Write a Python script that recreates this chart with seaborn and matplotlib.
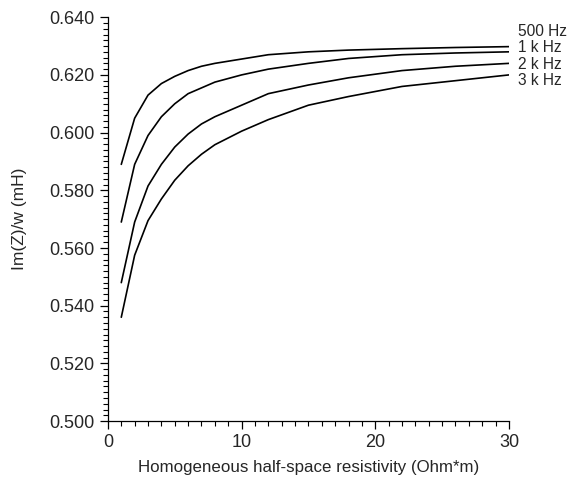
import pandas as pd
import seaborn as sns
import matplotlib.pyplot as plt
from matplotlib.ticker import MultipleLocator, FormatStrFormatter

# Resistivity values (Ohm*m) and Im(Z)/w (mH)
resistivity = [1, 2, 3, 4, 5, 6, 7, 8, 10, 12, 15, 18, 22, 26, 30]
im_500 = [0.589, 0.605, 0.613, 0.617, 0.6195, 0.6215, 0.623, 0.624, 0.6255,
          0.627, 0.628, 0.6286, 0.6291, 0.6295, 0.6298]
im_1k = [0.569, 0.589, 0.599, 0.6055, 0.610, 0.6135, 0.6155, 0.6175, 0.620,
         0.622, 0.624, 0.6257, 0.627, 0.6276, 0.628]
im_2k = [0.548, 0.569, 0.5815, 0.589, 0.595, 0.5995, 0.603, 0.6055, 0.6095,
         0.6135, 0.6165, 0.619, 0.6215, 0.623, 0.624]
im_3k = [0.536, 0.5575, 0.5695, 0.577, 0.5835, 0.5885, 0.5925, 0.5958, 0.6005,
         0.6045, 0.6095, 0.6125, 0.616, 0.618, 0.620]
freq_labels = ['500 Hz', '1 k Hz', '2 k Hz', '3 k Hz']

series = [im_500, im_1k, im_2k, im_3k]
df = pd.concat([pd.DataFrame({'rho': resistivity, 'imz': s, 'freq': f})
                for s, f in zip(series, freq_labels)], ignore_index=True)

sns.set_style('ticks')
plt.rcParams['font.family'] = ['Liberation Sans', 'DejaVu Sans']

fig = plt.figure(figsize=(5.68, 4.78), dpi=100)
ax = fig.add_axes([0.190, 0.119, 0.706, 0.845])

sns.lineplot(data=df, x='rho', y='imz', hue='freq', ax=ax,
             palette=['black'] * 4, linewidth=1.2, legend=False)

ax.set_xlim(0, 30)
ax.set_ylim(0.500, 0.640)
ax.xaxis.set_major_locator(MultipleLocator(10))
ax.xaxis.set_minor_locator(MultipleLocator(1))
ax.yaxis.set_major_locator(MultipleLocator(0.02))
ax.yaxis.set_minor_locator(MultipleLocator(0.002))
ax.yaxis.set_major_formatter(FormatStrFormatter('%.3f'))
ax.tick_params(which='major', length=6, width=0.9, labelsize=13, color='black')
ax.tick_params(which='minor', length=3.5, width=0.8, color='black')
for sp in ['left', 'bottom']:
    ax.spines[sp].set_linewidth(0.9)
    ax.spines[sp].set_color('black')
sns.despine(ax=ax)

ax.set_xlabel('Homogeneous half-space resistivity (Ohm*m)', fontsize=12.2, labelpad=6)
ax.set_ylabel('Im(Z)/w (mH)', fontsize=12.5, labelpad=16)

# frequency labels at the right end of each curve
label_y = [0.6351, 0.6296, 0.6237, 0.6182]
for lab, yy in zip(freq_labels, label_y):
    ax.text(30.7, yy, lab, fontsize=11.2, va='center', ha='left', clip_on=False)

fig.savefig('out.png', dpi=100)
